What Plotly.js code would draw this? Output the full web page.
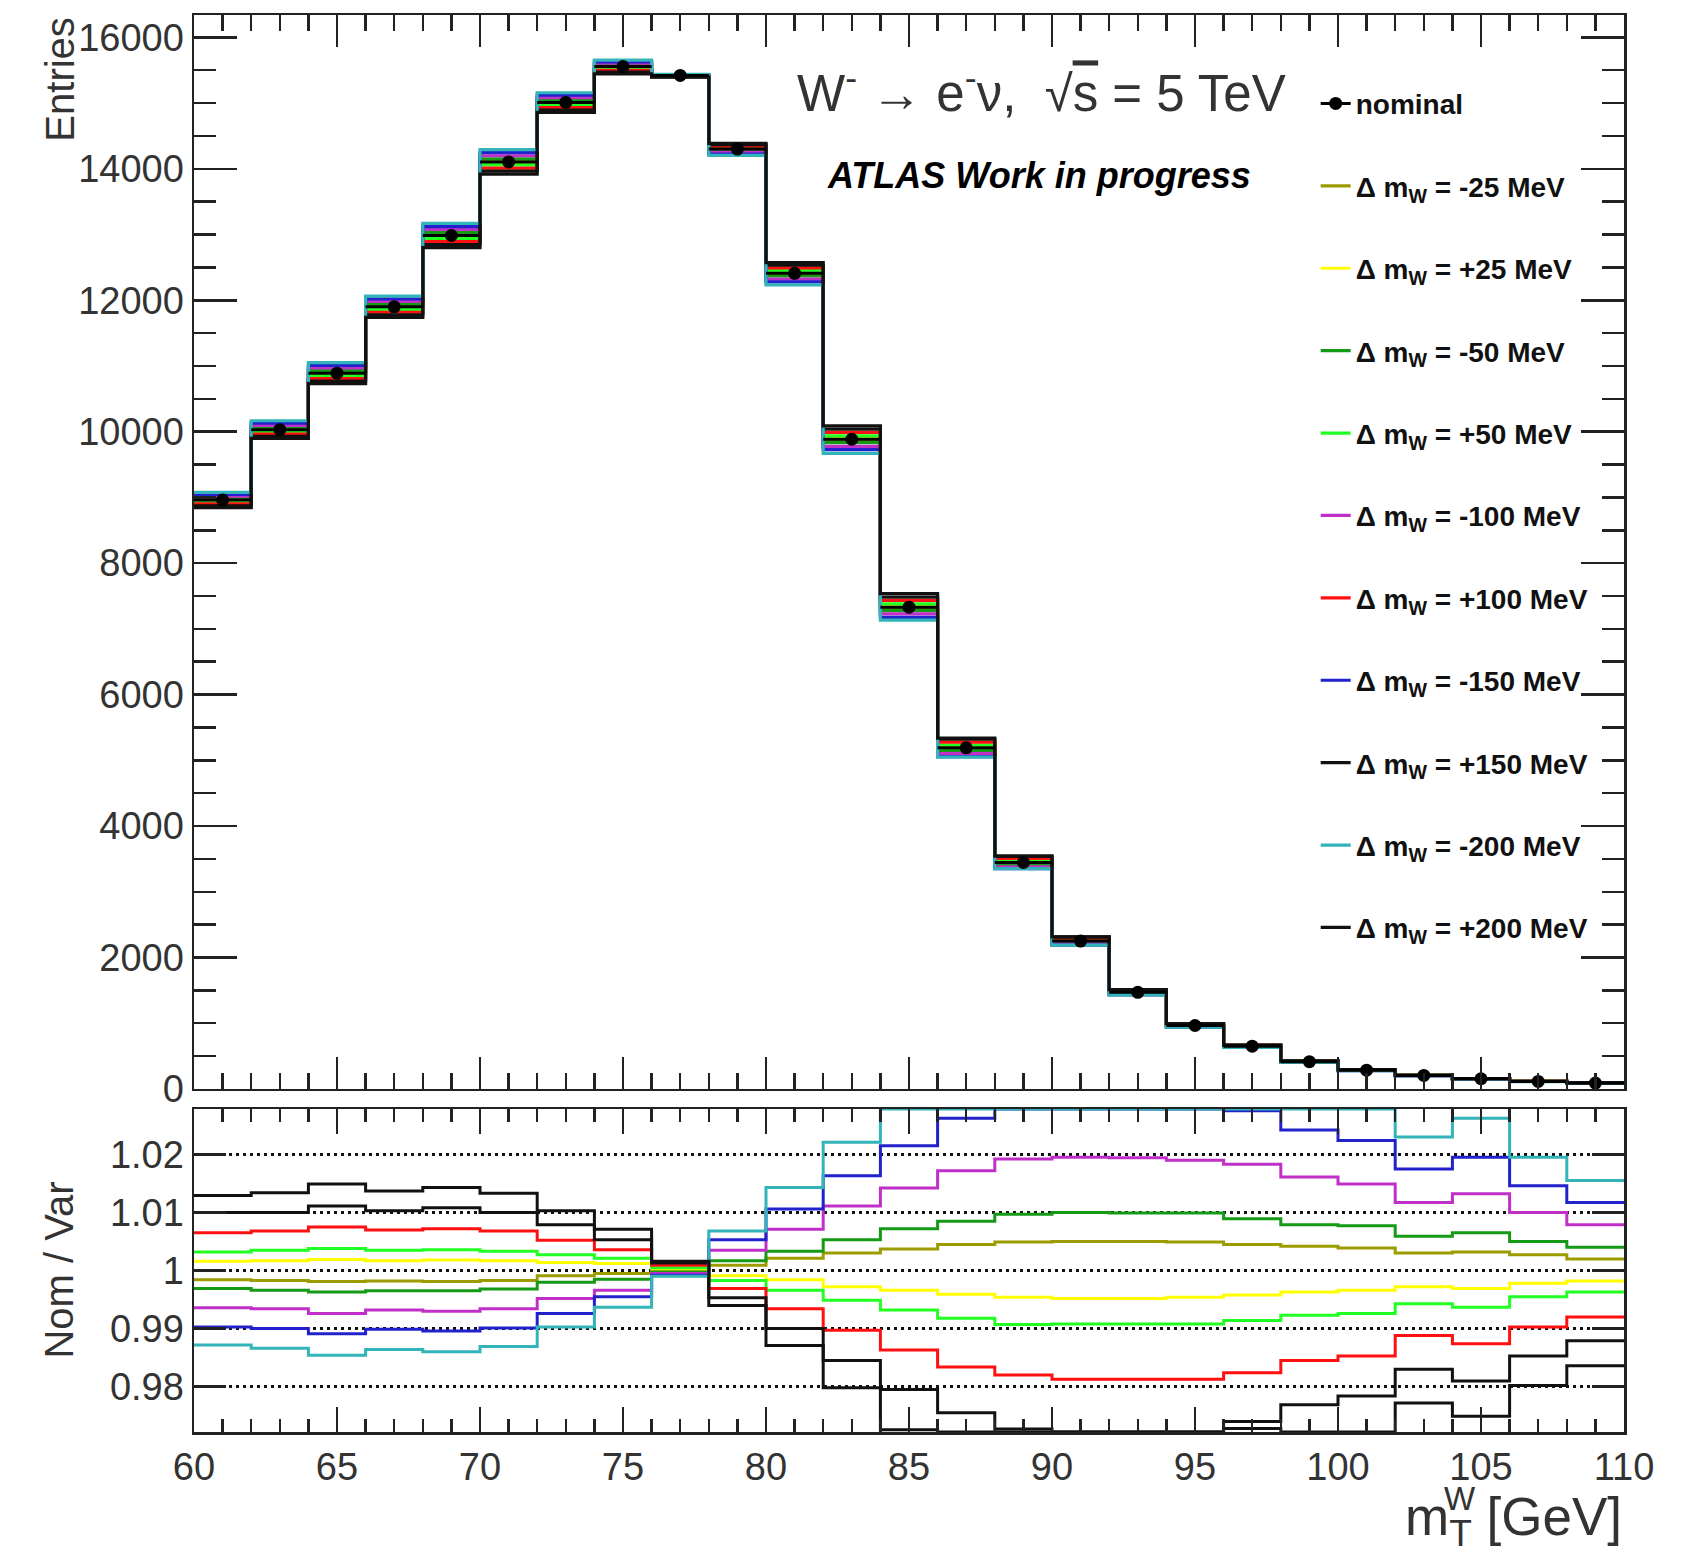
<!DOCTYPE html>
<html><head><meta charset="utf-8">
<script src="https://cdn.plot.ly/plotly-3.0.1.min.js"></script>
<style>body{margin:0;background:#fff}</style>
</head><body><div id="chart" style="width:1691px;height:1556px"></div>
<script>
// bin edges of the m_T^W histogram [GeV]
const binEdges = [60,62,64,66,68,70,72,74,76,78,80,82,84,86,88,90,92,94,96,98,100,102,104,106,108,110];
// nominal entries per bin
const nominal = [8960,10030,10890,11900,12985,14105,15010,15555,15420,14300,12410,9885,7330,5190,3445,2250,1470,965,650,415,285,205,155,115,90];
// Nom / Var ratios per bin (values at the frame edge were read where the line runs along the frame)
const ratio_m25  = [0.9984,0.9983,0.9981,0.9982,0.9981,0.9983,0.9991,0.9995,0.9999,1.0009,1.0021,1.0030,1.0037,1.0045,1.0049,1.0050,1.0050,1.0049,1.0045,1.0042,1.0039,1.0030,1.0032,1.0027,1.0020];
const ratio_p25  = [1.0016,1.0017,1.0019,1.0017,1.0018,1.0017,1.0014,1.0012,1.0003,0.9991,0.9984,0.9972,0.9966,0.9959,0.9954,0.9952,0.9952,0.9954,0.9958,0.9963,0.9966,0.9972,0.9969,0.9978,0.9982];
const ratio_m50  = [0.9969,0.9966,0.9963,0.9965,0.9965,0.9968,0.9980,0.9985,0.9997,1.0017,1.0033,1.0053,1.0072,1.0085,1.0097,1.0100,1.0099,1.0099,1.0089,1.0079,1.0077,1.0059,1.0065,1.0050,1.0040];
const ratio_p50  = [1.0032,1.0035,1.0038,1.0035,1.0036,1.0033,1.0027,1.0021,1.0005,0.9983,0.9966,0.9949,0.9932,0.9918,0.9907,0.9908,0.9908,0.9908,0.9914,0.9923,0.9926,0.9943,0.9937,0.9955,0.9963];
const ratio_m100 = [0.9936,0.9934,0.9926,0.9932,0.9930,0.9934,0.9952,0.9966,0.9995,1.0035,1.0071,1.0111,1.0142,1.0172,1.0192,1.0195,1.0194,1.0190,1.0183,1.0161,1.0149,1.0117,1.0132,1.0100,1.0079];
const ratio_p100 = [1.0065,1.0068,1.0075,1.0070,1.0072,1.0068,1.0052,1.0036,1.0009,0.9969,0.9934,0.9897,0.9863,0.9834,0.9820,0.9813,0.9813,0.9813,0.9824,0.9845,0.9853,0.9888,0.9874,0.9903,0.9920];
const ratio_m150 = [0.9903,0.9900,0.9891,0.9899,0.9896,0.9901,0.9926,0.9955,0.9992,1.0053,1.0106,1.0163,1.0215,1.0262,1.0278,1.0278,1.0278,1.0278,1.0275,1.0242,1.0224,1.0175,1.0195,1.0146,1.0117];
const ratio_p150 = [1.0100,1.0100,1.0111,1.0103,1.0108,1.0100,1.0079,1.0053,1.0013,0.9953,0.9900,0.9845,0.9795,0.9755,0.9727,0.9722,0.9722,0.9722,0.9740,0.9769,0.9784,0.9830,0.9810,0.9853,0.9879];
const ratio_m200 = [0.9872,0.9866,0.9854,0.9864,0.9860,0.9869,0.9903,0.9937,0.9990,1.0068,1.0143,1.0221,1.0278,1.0278,1.0278,1.0278,1.0278,1.0278,1.0278,1.0278,1.0278,1.0230,1.0262,1.0195,1.0155];
const ratio_p200 = [1.0129,1.0134,1.0149,1.0137,1.0143,1.0133,1.0103,1.0071,1.0016,0.9940,0.9871,0.9798,0.9726,0.9722,0.9722,0.9722,0.9722,0.9722,0.9728,0.9722,0.9722,0.9772,0.9749,0.9802,0.9836];

const varNames  = ['-25','+25','-50','+50','-100','+100','-150','+150','-200','+200'];
const varRatios = [ratio_m25,ratio_p25,ratio_m50,ratio_p50,ratio_m100,ratio_p100,ratio_m150,ratio_p150,ratio_m200,ratio_p200];
const varColors = ['#9c9c00','#ffff00','#159a15','#22ff22','#c030c8','#ff1010','#2222cc','#111111','#33b4b8','#111111'];

const FONT = 'Liberation Sans, Arial, Helvetica, sans-serif';
const stepX = binEdges;
function stepY(v){ return v.concat([v[v.length-1]]); }
const centers = binEdges.slice(0,-1).map((e,i)=> (e+binEdges[i+1])/2);

const traces = [];
// legend entry for nominal (line + marker)
traces.push({
  x:[null], y:[null], xaxis:'x', yaxis:'y', type:'scatter', mode:'lines+markers',
  line:{color:'#000', width:3}, marker:{color:'#000', size:13},
  name:'<b>nominal</b>', legendgroup:'nom', legendrank:1, showlegend:true
});
varRatios.forEach((r,k)=>{
  const vals = nominal.map((n,i)=> n / r[i]);
  traces.push({
    x: stepX, y: stepY(vals), xaxis:'x', yaxis:'y', type:'scatter', mode:'lines',
    line:{shape:'hv', color:varColors[k], width:3.2},
    name:'<b>\u0394 m<sub>W</sub> = '+varNames[k]+' MeV</b>',
    legendgroup:'g'+k, legendrank: k+2, showlegend:true, hoverinfo:'skip'
  });
});
varRatios.forEach((r,k)=>{
  traces.push({
    x: stepX, y: stepY(r), xaxis:'x2', yaxis:'y2', type:'scatter', mode:'lines',
    line:{shape:'hv', color:varColors[k], width:3},
    showlegend:false, legendgroup:'g'+k, hoverinfo:'skip'
  });
});
// nominal points
traces.push({
  x: centers, y: nominal, xaxis:'x', yaxis:'y', type:'scatter', mode:'markers',
  marker:{color:'#000', size:13},
  error_x:{type:'constant', value:1, thickness:3, width:0, color:'#000'},
  showlegend:false, legendgroup:'nom', hoverinfo:'skip'
});

const axCol = '#222';
const layout = {
  width:1691, height:1556,
  paper_bgcolor:'#fff', plot_bgcolor:'#fff',
  margin:{l:194, r:67, t:15, b:124},
  showlegend:true,
  legend:{x:0.7844, xanchor:'left', y:0.955, yanchor:'top', tracegroupgap:43, traceorder:'grouped',
          bgcolor:'rgba(0,0,0,0)', font:{family:FONT, size:28, color:'#111'}},
  xaxis:{domain:[0,1], anchor:'y', range:[60,110], showticklabels:false,
         showline:true, linecolor:axCol, linewidth:2.5, mirror:'ticks',
         ticks:'inside', tickvals:[60,65,70,75,80,85,90,95,100,105,110], ticklen:32, tickwidth:2.5, tickcolor:axCol,
         minor:{dtick:1, ticks:'inside', ticklen:16, tickwidth:2.5, tickcolor:axCol},
         showgrid:false, zeroline:false},
  yaxis:{domain:[0.2421,1], anchor:'x', range:[0,16340],
         showline:true, linecolor:axCol, linewidth:2.5, mirror:'ticks',
         ticks:'inside', tickvals:[0,2000,4000,6000,8000,10000,12000,14000,16000], ticklen:43, tickwidth:2.5, tickcolor:axCol,
         tickformat:'d', tickfont:{family:FONT, size:38, color:'#333'},
         minor:{dtick:500, ticks:'inside', ticklen:22, tickwidth:2.5, tickcolor:axCol},
         showgrid:false, zeroline:false},
  xaxis2:{domain:[0,1], anchor:'y2', range:[60,110], matches:'x',
         showline:true, linecolor:axCol, linewidth:2.5, mirror:'ticks',
         ticks:'inside', tickvals:[60,65,70,75,80,85,90,95,100,105,110], ticklen:25, tickwidth:2.5, tickcolor:axCol,
         tickfont:{family:FONT, size:38, color:'#333'},
         minor:{dtick:1, ticks:'inside', ticklen:13, tickwidth:2.5, tickcolor:axCol},
         showgrid:false, zeroline:false},
  yaxis2:{domain:[0,0.2279], anchor:'x2', range:[0.9722,1.0278],
         showline:true, linecolor:axCol, linewidth:2.5, mirror:'ticks',
         ticks:'inside', tickvals:[0.98,0.99,1.0,1.01,1.02], ticktext:['0.98','0.99','1','1.01','1.02'],
         ticklen:32, tickwidth:2.5, tickcolor:axCol,
         tickfont:{family:FONT, size:38, color:'#333'},
         showgrid:true, gridcolor:'#111', gridwidth:2.6, griddash:'3px,4px', zeroline:false},
  annotations:[
    {text:'Entries', xref:'paper', yref:'paper', x:-0.0943, y:1.0, xanchor:'center', yanchor:'top',
     textangle:-90, showarrow:false, font:{family:FONT, size:40, color:'#333'}},
    {text:'Nom / Var', xref:'paper', yref:'paper', x:-0.0943, y:0.114, xanchor:'center', yanchor:'middle',
     textangle:-90, showarrow:false, font:{family:FONT, size:40, color:'#333'}},
    {text:'m<sub>T</sub> [GeV]', xref:'paper', yref:'paper', x:1.0, y:-0.0628, xanchor:'right', yanchor:'middle',
     showarrow:false, font:{family:FONT, size:53, color:'#333'}},
    {text:'W', xref:'paper', yref:'paper', x:0.873, y:-0.047, xanchor:'left', yanchor:'middle',
     showarrow:false, font:{family:FONT, size:33, color:'#333'}},
    {text:'W<sup>-</sup> \u2192 e<sup>-</sup>\u03bd,  \u221a<span style="text-decoration:overline">s</span> = 5 TeV', xref:'paper', yref:'paper',
     x:0.5926, y:0.947, xanchor:'center', yanchor:'middle', showarrow:false, font:{family:FONT, size:51, color:'#333'}},
    {text:'<b><i>ATLAS Work in progress</i></b>', xref:'paper', yref:'paper', x:0.591, y:0.8865, xanchor:'center', yanchor:'middle',
     showarrow:false, font:{family:FONT, size:36, color:'#000'}}
  ]
};
Plotly.newPlot('chart', traces, layout, {displayModeBar:false, staticPlot:true});
</script></body></html>
